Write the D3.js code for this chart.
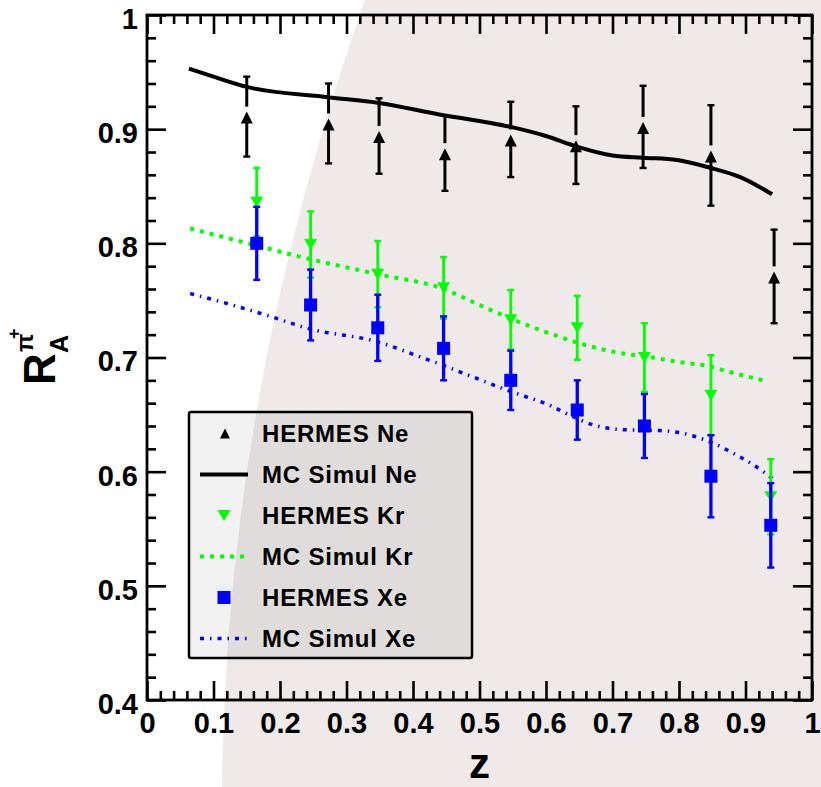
<!DOCTYPE html>
<html>
<head>
<meta charset="utf-8">
<script src="https://cdn.jsdelivr.net/npm/d3@7"></script>
<style>
html,body{margin:0;padding:0;background:#fff;}
svg{display:block;}
text{font-family:"Liberation Sans",Arial,Helvetica,sans-serif;font-weight:bold;}
</style>
</head>
<body>
<svg id="chart" width="821" height="787"></svg>
<script>
// ---- data ----
const xTicks = [0,0.1,0.2,0.3,0.4,0.5,0.6,0.7,0.8,0.9,1];
const yTicks = [0.4,0.5,0.6,0.7,0.8,0.9,1];

const neZ   = [0.150,0.273,0.349,0.448,0.547,0.645,0.746,0.848,0.943];
const neVal = [0.911,0.905,0.894,0.879,0.891,0.886,0.902,0.877,0.771];
const neErr = [0.035,0.035,0.033,0.033,0.033,0.034,0.036,0.044,0.041];

const krZ   = [0.165,0.246,0.347,0.446,0.547,0.647,0.748,0.848,0.938];
const krVal = [0.836,0.799,0.773,0.761,0.733,0.726,0.700,0.667,0.578];
const krErr = [0.030,0.029,0.029,0.027,0.026,0.028,0.030,0.035,0.033];

const xeZ   = [0.165,0.246,0.347,0.446,0.547,0.647,0.748,0.848,0.938];
const xeVal = [0.800,0.746,0.726,0.708,0.680,0.654,0.640,0.596,0.553];
const xeErr = [0.032,0.031,0.029,0.028,0.026,0.026,0.028,0.036,0.037];

const mcNeZ = [0.063,0.100,0.150,0.273,0.349,0.448,0.470,0.547,0.600,0.645,0.700,0.746,0.797,0.848,0.892,0.940];
const mcNeV = [0.953,0.946,0.937,0.928,0.923,0.912,0.910,0.902,0.894,0.885,0.877,0.875,0.873,0.866,0.858,0.843];

const mcKrZ = [0.065,0.165,0.246,0.347,0.446,0.500,0.547,0.611,0.647,0.721,0.748,0.800,0.848,0.872,0.934];
const mcKrV = [0.813,0.798,0.786,0.773,0.760,0.746,0.734,0.720,0.713,0.703,0.701,0.696,0.692,0.688,0.679];

const mcXeZ = [0.065,0.110,0.180,0.245,0.345,0.418,0.446,0.490,0.548,0.606,0.634,0.671,0.709,0.771,0.802,0.847,0.882,0.929,0.940];
const mcXeV = [0.756,0.749,0.737,0.725,0.714,0.699,0.693,0.683,0.670,0.658,0.650,0.641,0.637,0.636,0.634,0.626,0.616,0.599,0.594];

const legendLabels = ["HERMES Ne","MC Simul Ne","HERMES Kr","MC Simul Kr","HERMES Xe","MC Simul Xe"];

// ---- setup ----
const svg = d3.select("#chart");
const W = 821, H = 787;
const x = d3.scaleLinear().domain([0,1]).range([147,812]);
const y = d3.scaleLinear().domain([0.4,1]).range([700,15]);

const BG = "#efe9e9";
svg.append("rect").attr("width",W).attr("height",H).attr("fill",BG);
svg.append("path").attr("fill","#ffffff")
  .attr("d","M0,0 L365,0 Q226,393 222,787 L0,787 Z");

const GREEN = "#00ff00", BLUE = "#0000ff", BLACK = "#000000";

// ---- MC curves ----
const lineGen = d3.line().x(d=>x(d[0])).y(d=>y(d[1])).curve(d3.curveMonotoneX);
svg.append("path").datum(d3.zip(mcNeZ,mcNeV)).attr("d",lineGen)
  .attr("fill","none").attr("stroke",BLACK).attr("stroke-width",4);
svg.append("path").datum(d3.zip(mcKrZ,mcKrV)).attr("d",lineGen)
  .attr("fill","none").attr("stroke",GREEN).attr("stroke-width",4)
  .attr("stroke-dasharray","4,6");
svg.append("path").datum(d3.zip(mcXeZ,mcXeV)).attr("d",lineGen)
  .attr("fill","none").attr("stroke",BLUE).attr("stroke-width",3.5)
  .attr("stroke-dasharray","4,6,1.5,6");

// ---- data points ----
function errorBars(zs, vs, es, color, width, gapTop, gapBot){
  const g = svg.append("g").attr("stroke",color).attr("stroke-width",width);
  zs.forEach((z,i)=>{
    const cx = x(z), cy = y(vs[i]);
    const yt = y(vs[i]+es[i]), yb = y(vs[i]-es[i]);
    g.append("line").attr("x1",cx).attr("x2",cx).attr("y1",yt).attr("y2",cy-gapTop);
    g.append("line").attr("x1",cx).attr("x2",cx).attr("y1",cy+gapBot).attr("y2",yb);
    g.append("line").attr("x1",cx-3.5).attr("x2",cx+3.5).attr("y1",yt).attr("y2",yt).attr("stroke-width",2.4);
    g.append("line").attr("x1",cx-3.5).attr("x2",cx+3.5).attr("y1",yb).attr("y2",yb).attr("stroke-width",2.4);
  });
}
function triUp(cx,cy,w,h){return `M${cx-w/2},${cy+h/2} L${cx+w/2},${cy+h/2} L${cx},${cy-h/2} Z`;}
function triDown(cx,cy,w,h){return `M${cx-w/2},${cy-h/2} L${cx+w/2},${cy-h/2} L${cx},${cy+h/2} Z`;}

// Ne
errorBars(neZ,neVal,neErr,BLACK,3,10,0);
svg.append("g").selectAll("path").data(d3.zip(neZ,neVal)).join("path")
  .attr("d",d=>triUp(x(d[0]),y(d[1])+1,12,12)).attr("fill",BLACK);
// Kr
errorBars(krZ,krVal,krErr,GREEN,2.8,0,0);
svg.append("g").selectAll("path").data(d3.zip(krZ,krVal)).join("path")
  .attr("d",d=>triDown(x(d[0]),y(d[1]),13,11)).attr("fill",GREEN);
// Xe
errorBars(xeZ,xeVal,xeErr,BLUE,3.3,0,0);
svg.append("g").selectAll("rect").data(d3.zip(xeZ,xeVal)).join("rect")
  .attr("x",d=>x(d[0])-6.5).attr("y",d=>y(d[1])-6.5).attr("width",13).attr("height",13).attr("fill",BLUE);

// ---- axes ----
const minors = d3.range(0,51).map(i=>i*0.02).filter(v=>Math.abs(v*10-Math.round(v*10))>1e-6);
const yMinors = d3.range(0,31).map(i=>0.4+i*0.02).filter(v=>Math.abs(v*10-Math.round(v*10))>1e-6);
function styleAxis(g){
  g.selectAll("path.domain").remove();
  g.selectAll("line").attr("stroke","#000").attr("stroke-width",2.6);
}
const fmt = d=>d3.format("")(Math.round(d*10)/10);

const gB = svg.append("g").attr("transform",`translate(0,${y(0.4)})`)
  .call(d3.axisBottom(x).tickValues(xTicks).tickSizeInner(-19).tickSizeOuter(0).tickPadding(12).tickFormat(fmt));
styleAxis(gB);
gB.selectAll("text").attr("font-size",29).attr("fill","#000").attr("font-family","Liberation Sans, Arial, sans-serif").attr("font-weight","bold");
const gBm = svg.append("g").attr("transform",`translate(0,${y(0.4)})`)
  .call(d3.axisBottom(x).tickValues(minors).tickSizeInner(-9).tickSizeOuter(0).tickFormat(""));
styleAxis(gBm);

const gT = svg.append("g").attr("transform",`translate(0,${y(1)})`)
  .call(d3.axisTop(x).tickValues(xTicks).tickSizeInner(-19).tickSizeOuter(0).tickFormat(""));
styleAxis(gT);
const gTm = svg.append("g").attr("transform",`translate(0,${y(1)})`)
  .call(d3.axisTop(x).tickValues(minors).tickSizeInner(-9).tickSizeOuter(0).tickFormat(""));
styleAxis(gTm);

const gL = svg.append("g").attr("transform",`translate(${x(0)},0)`)
  .call(d3.axisLeft(y).tickValues(yTicks).tickSizeInner(-19).tickSizeOuter(0).tickPadding(9).tickFormat(fmt));
styleAxis(gL);
gL.selectAll("text").attr("font-size",29).attr("dy","0.46em").attr("fill","#000").attr("font-family","Liberation Sans, Arial, sans-serif").attr("font-weight","bold");
const gLm = svg.append("g").attr("transform",`translate(${x(0)},0)`)
  .call(d3.axisLeft(y).tickValues(yMinors).tickSizeInner(-9).tickSizeOuter(0).tickFormat(""));
styleAxis(gLm);

const gR = svg.append("g").attr("transform",`translate(${x(1)},0)`)
  .call(d3.axisRight(y).tickValues(yTicks).tickSizeInner(-19).tickSizeOuter(0).tickFormat(""));
styleAxis(gR);
const gRm = svg.append("g").attr("transform",`translate(${x(1)},0)`)
  .call(d3.axisRight(y).tickValues(yMinors).tickSizeInner(-9).tickSizeOuter(0).tickFormat(""));
styleAxis(gRm);

// frame
svg.append("rect").attr("x",x(0)).attr("y",y(1)).attr("width",x(1)-x(0)).attr("height",y(0.4)-y(1))
  .attr("fill","none").attr("stroke","#000").attr("stroke-width",2.8);

// axis titles
svg.append("text").attr("x",x(0.5)).attr("y",778).attr("text-anchor","middle")
  .attr("font-size",42).attr("fill","#000").text("z");

const yt = svg.append("g").attr("transform","translate(55,385) rotate(-90)");
yt.append("text").attr("x",0).attr("y",0).attr("font-size",44).attr("fill","#000").text("R");
yt.append("text").attr("x",32).attr("y",13).attr("font-size",25).attr("fill","#000").text("A");
yt.append("text").attr("x",33).attr("y",-22).attr("font-size",24).attr("font-weight","normal")
  .attr("font-family","DejaVu Serif, serif").attr("fill","#000").text("π");
yt.append("text").attr("x",46).attr("y",-35).attr("font-size",18).attr("fill","#000").text("+");

// ---- legend ----
const lg = svg.append("g");
lg.append("rect").attr("x",189).attr("y",412).attr("width",283).attr("height",246).attr("rx",2)
  .attr("fill","rgba(0,0,0,0.055)").attr("stroke","#000").attr("stroke-width",2.5);
const rowY = i=>433.5+i*41;
legendLabels.forEach((t,i)=>{
  lg.append("text").attr("x",262).attr("y",rowY(i)+8.5).attr("font-size",24)
    .attr("letter-spacing","0.8px").attr("fill","#000").text(t);
});
lg.append("path").attr("d",triUp(225,rowY(0),10,10)).attr("fill",BLACK);
lg.append("line").attr("x1",200).attr("x2",248).attr("y1",rowY(1)).attr("y2",rowY(1)).attr("stroke",BLACK).attr("stroke-width",4);
lg.append("path").attr("d",triDown(224,rowY(2),13,11)).attr("fill",GREEN);
lg.append("line").attr("x1",200).attr("x2",248).attr("y1",rowY(3)).attr("y2",rowY(3)).attr("stroke",GREEN).attr("stroke-width",4).attr("stroke-dasharray","4,6");
lg.append("rect").attr("x",217.5).attr("y",rowY(4)-6.5).attr("width",13).attr("height",13).attr("fill",BLUE);
lg.append("line").attr("x1",200).attr("x2",248).attr("y1",rowY(5)).attr("y2",rowY(5)).attr("stroke",BLUE).attr("stroke-width",3.5).attr("stroke-dasharray","4,6,1.5,6");
</script>
</body>
</html>
